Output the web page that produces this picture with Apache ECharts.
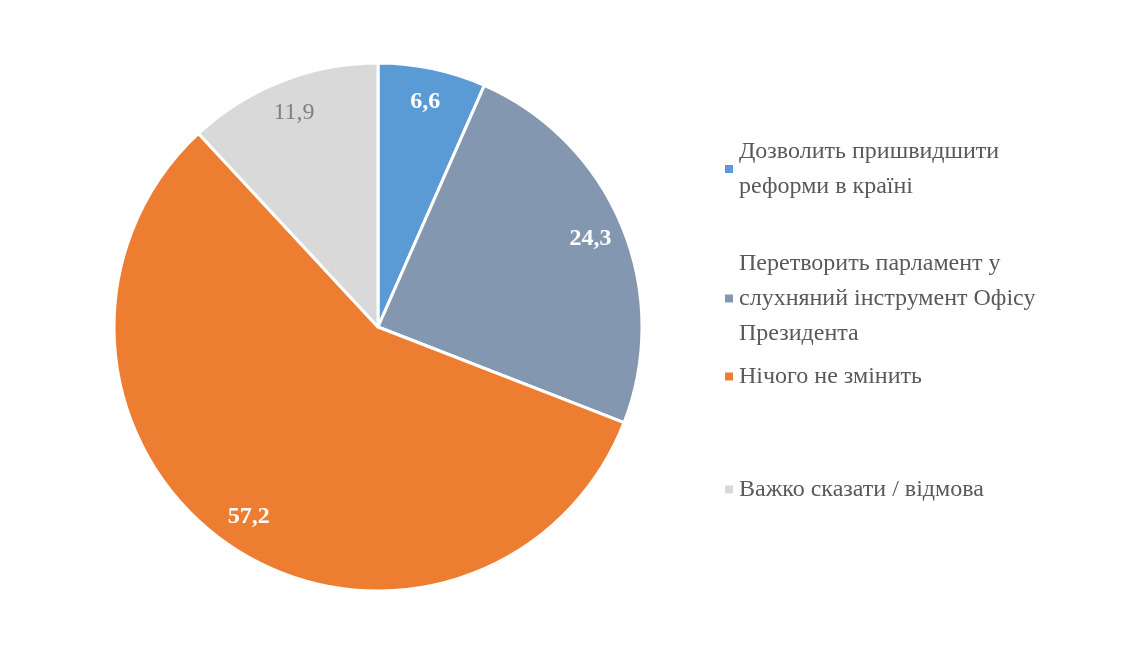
<!DOCTYPE html>
<html><head><meta charset="utf-8">
<script src="https://cdn.jsdelivr.net/npm/echarts@6/dist/echarts.min.js"></script>
<style>html,body{margin:0;padding:0;background:#fff}#c{width:1137px;height:650px}</style>
</head><body><div id="c"></div>
<script>
const categories = ['Дозволить пришвидшити\nреформи в країні','Перетворить парламент у\nслухняний інструмент Офісу\nПрезидента','Нічого не змінить','Важко сказати / відмова'];
const values = [6.6, 24.3, 57.2, 11.9];
const colors = ['#5B9BD5','#8497B0','#ED7D31','#D9D9D9'];
const labelColors = ['#fff','#fff','#fff','#808080'];
const labelWeights = ['bold','bold','bold','normal'];
const legendTops = [129, 241, 354, 467];

const data = categories.map((n,i)=>({name:n,value:values[i],itemStyle:{color:colors[i]}}));
const chart = echarts.init(document.getElementById('c'));
chart.setOption({
  animation:false,
  legend: categories.map((n,i)=>({
    data:[n], left:718, top:legendTops[i], orient:'vertical',
    icon:'rect', itemWidth:10, itemHeight:10, itemGap:0, selectedMode:false,
    textStyle:{fontFamily:'Liberation Serif', fontSize:24, color:'#595959', lineHeight:35, padding:[0,0,0,0]}
  })),
  series:[
    {type:'pie', center:[378,327], radius:[0,264], startAngle:90, clockwise:true,
     data:data, label:{show:false}, labelLine:{show:false},
     itemStyle:{borderColor:'#fff', borderWidth:3}, silent:true},
    {type:'pie', center:[378,327], radius:[190,264], startAngle:90, clockwise:true,
     silent:true, legendHoverLink:false,
     data:categories.map((n,i)=>({name:n+' ', value:values[i],
        itemStyle:{color:'transparent'},
        label:{color:labelColors[i], fontWeight:labelWeights[i]}})),
     label:{show:true, position:'inside', fontFamily:'Liberation Serif', fontSize:24,
        formatter:p=>String(p.value).replace('.',',')},
     labelLine:{show:false}}
  ]
});
</script></body></html>
